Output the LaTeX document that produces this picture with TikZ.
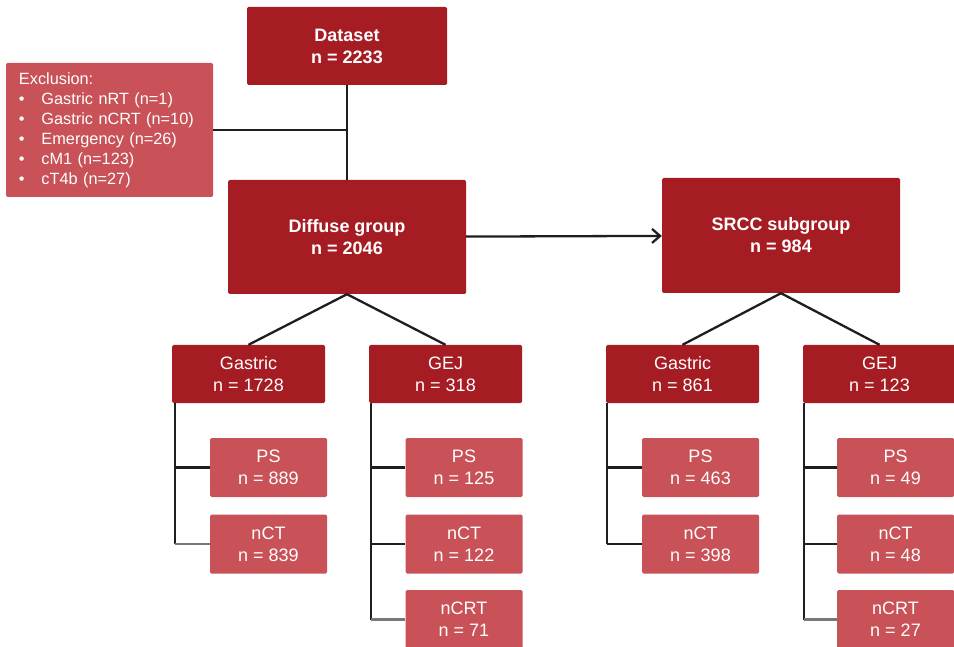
\documentclass[tikz,border=0pt]{standalone}
\usepackage{fontspec}
\setmainfont{Liberation Sans}
\usetikzlibrary{arrows.meta}
\definecolor{darkred}{RGB}{165,28,35}
\definecolor{lightred}{RGB}{200,82,87}
\definecolor{linegray}{RGB}{120,120,120}
\definecolor{lineblack}{RGB}{30,30,30}
\tikzset{
  box/.style={rectangle, rounded corners=1.5pt, text=white, align=center,
    inner sep=0pt, font=\fontsize{18}{22}\selectfont},
  mainbox/.style={box, fill=darkred, font=\fontsize{18}{22}\selectfont\bfseries},
  groupbox/.style={box, fill=darkred, minimum width=153pt, minimum height=58pt},
  leafbox/.style={box, fill=lightred, minimum width=117pt, minimum height=59pt},
  exclbox/.style={box, fill=lightred, minimum width=207pt, minimum height=134pt,
    text width=181pt, align=left, inner xsep=13pt, font=\fontsize{16.3}{20}\selectfont},
  link/.style={draw=lineblack, line width=2.3pt},
}
\newcommand{\bul}{\makebox[22.5pt][l]{\textbullet}}
\begin{document}
\begin{tikzpicture}[x=1pt,y=-1pt]
      \useasboundingbox (0,0) rectangle (954,647);
      \draw
        (347,46) node[mainbox, minimum width=200pt, minimum height=78pt] (data){Dataset\\n = 2233}
        (109.5,130) node[exclbox] (excl){Exclusion:\\\bul Gastric nRT (n=1)\\\bul Gastric nCRT (n=10)\\\bul Emergency (n=26)\\\bul cM1 (n=123)\\\bul cT4b (n=27)}
        (347,237) node[mainbox, minimum width=238pt, minimum height=114pt] (diffuse){Diffuse group\\n = 2046}
        (781,235.5) node[mainbox, minimum width=238pt, minimum height=115pt] (srcc){SRCC subgroup\\n = 984}
        (248.5,374) node[groupbox] (g1){Gastric\\n = 1728}
        (445.5,374) node[groupbox] (j1){GEJ\\n = 318}
        (682.5,374) node[groupbox] (g2){Gastric\\n = 861}
        (879.5,374) node[groupbox] (j2){GEJ\\n = 123}
        (268.5,467.5) node[leafbox] (gps1){PS\\n = 889}
        (268.5,544) node[leafbox] (gnct1){nCT\\n = 839}
        (464,467.5) node[leafbox] (jps1){PS\\n = 125}
        (464,544) node[leafbox] (jnct1){nCT\\n = 122}
        (464,619.5) node[leafbox] (jncrt1){nCRT\\n = 71}
        (700.5,467.5) node[leafbox] (gps2){PS\\n = 463}
        (700.5,544) node[leafbox] (gnct2){nCT\\n = 398}
        (895.5,467.5) node[leafbox] (jps2){PS\\n = 49}
        (895.5,544) node[leafbox] (jnct2){nCT\\n = 48}
        (895.5,619.5) node[leafbox] (jncrt2){nCRT\\n = 27};
      \begin{scope}[link]
        \draw (data) to (diffuse);
        \draw (excl.east) to (excl.east -| data.south);
        \draw[-{Straight Barb[length=8pt,width=14pt]}] (diffuse) to (srcc);
        \draw (diffuse.south) to (g1.north);
        \draw (diffuse.south) to (j1.north);
        \draw (srcc.south) to (g2.north);
        \draw (srcc.south) to (j2.north);
        \draw ([xshift=3pt]g1.south west) coordinate (gb1) to (gb1 |- gnct1.west);
        \draw (gb1 |- gps1.west) to (gps1.west);
        \draw[linegray] (gb1 |- gnct1.west) to (gnct1.west);
        \draw ([xshift=2pt]j1.south west) coordinate (jb1) to (jb1 |- jncrt1.west);
        \draw (jb1 |- jps1.west) to (jps1.west);
        \draw (jb1 |- jnct1.west) to (jnct1.west);
        \draw[linegray] (jb1 |- jncrt1.west) to (jncrt1.west);
        \draw ([xshift=1.5pt]g2.south west) coordinate (gb2) to (gb2 |- gnct2.west);
        \draw (gb2 |- gps2.west) to (gps2.west);
        \draw (gb2 |- gnct2.west) to (gnct2.west);
        \draw ([xshift=1.5pt]j2.south west) coordinate (jb2) to (jb2 |- jncrt2.west);
        \draw (jb2 |- jps2.west) to (jps2.west);
        \draw (jb2 |- jnct2.west) to (jnct2.west);
        \draw[linegray] (jb2 |- jncrt2.west) to (jncrt2.west);
      \end{scope}
    \end{tikzpicture}
\end{document}
